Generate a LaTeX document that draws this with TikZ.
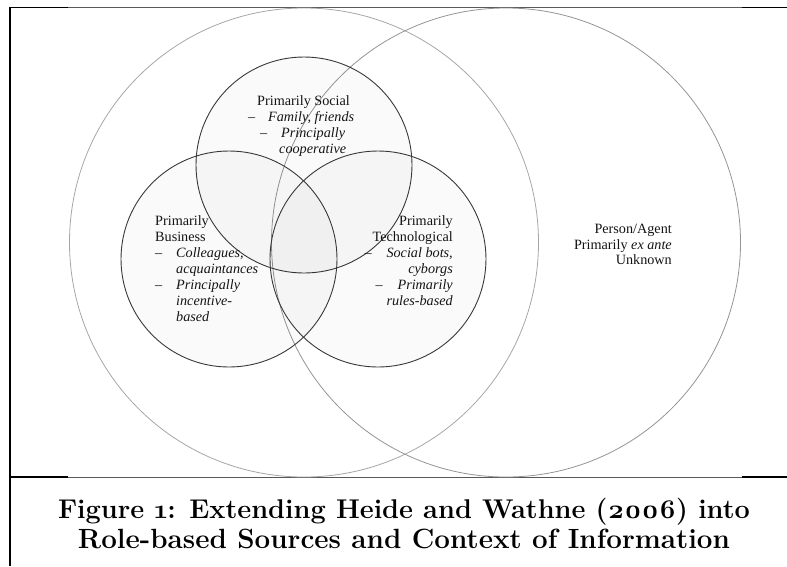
\documentclass[tikz,border=0pt]{standalone}
\usepackage{fontspec}
\newfontfamily\lblfont{Liberation Serif}
\newfontfamily\capfont{Latin Modern Roman}[Numbers=OldStyle]
\begin{document}
\begin{tikzpicture}[x=1pt,y=-1pt,
  bigc/.style={draw=black!42, line width=0.8pt},
  smallc/.style={draw=black!78, line width=0.9pt, fill=black, fill opacity=0.02},
  lbl/.style={font=\lblfont\fontsize{14.2}{16}\selectfont, inner sep=0pt, text=black!92},
  captext/.style={font=\capfont\fontsize{27.8}{32}\selectfont\bfseries, inner sep=0pt, text=black},
  frameline/.style={draw=black, line width=1.4pt},
  thinline/.style={draw=black!65, line width=0.8pt}]
\useasboundingbox (0,0) rectangle (787,566);
% frame lines
\coordinate (tl) at (10,7.5); \coordinate (tla) at (68,7.5);
\coordinate (tra) at (742,7.5); \coordinate (tr) at (787,7.5);
\coordinate (ml) at (10,477); \coordinate (mla) at (68,477);
\coordinate (mra) at (742,477); \coordinate (mr) at (787,477);
\coordinate (bl) at (10,566);
\draw[thinline] (tla) -- (tra);
\draw[thinline] (mla) -- (mra);
\draw[frameline] (tl) -- (tla);
\draw[frameline] (tra) -- (tr);
\draw[frameline] (ml) -- (mla);
\draw[frameline] (mra) -- (mr);
\draw[frameline] ([yshift=0.7pt]tl) -- (bl);
% big circles
\draw[bigc, draw=black!35] (304,242.5) circle[radius=234.5];
\draw[bigc] (506,242.5) circle[radius=234.5];
% small circles
\draw[smallc] (304,165) circle[radius=108];
\draw[smallc] (229,259) circle[radius=108];
\draw[smallc] (378,259) circle[radius=108];
% Social
\node[lbl, anchor=base west] (s1) at (257,105) {Primarily Social};
\node[lbl, anchor=base west] (s2) at (248,121) {\makebox[20pt][l]{–}\textit{Family, friends}};
\node[lbl, anchor=base west] (s3) at (260,137) {\makebox[21pt][l]{–}\textit{Principally}};
\node[lbl, anchor=base west] (s4) at (279,153) {\textit{cooperative}};
% Business
\node[lbl, anchor=base west] (b1) at (155,225) {Primarily};
\node[lbl, anchor=base west] (b2) at (155,241) {Business};
\node[lbl, anchor=base west] (b3) at (155,257) {\makebox[21pt][l]{–}\textit{Colleagues,}};
\node[lbl, anchor=base west] (b4) at (176,273) {\textit{acquaintances}};
\node[lbl, anchor=base west] (b5) at (155,289) {\makebox[21pt][l]{–}\textit{Principally}};
\node[lbl, anchor=base west] (b6) at (176,305) {\textit{incentive-}};
\node[lbl, anchor=base west] (b7) at (176,321) {\textit{based}};
% Technological
\node[lbl, anchor=base east] (t1) at (453,225) {Primarily};
\node[lbl, anchor=base east] (t2) at (453,241) {Technological};
\node[lbl, anchor=base east] (t3) at (453,257) {\makebox[22pt][l]{–}\textit{Social bots,}};
\node[lbl, anchor=base east] (t4) at (453,273) {\textit{cyborgs}};
\node[lbl, anchor=base east] (t5) at (453,289) {\makebox[22pt][l]{–}\textit{Primarily}};
\node[lbl, anchor=base east] (t6) at (453,305) {\textit{rules-based}};
% Person/Agent
\node[lbl, anchor=base east] (p1) at (672,233) {Person/Agent};
\node[lbl, anchor=base east] (p2) at (672,249) {Primarily \textit{ex ante}};
\node[lbl, anchor=base east] (p3) at (672,264) {Unknown};
% caption
\node[captext, font=\capfont\fontsize{27.1}{32}\selectfont\bfseries, anchor=base] (c1) at (404,518) {Figure 1: Extending Heide and Wathne (2006) into};
\node[captext, anchor=base] (c2) at (404,548) {Role-based Sources and Context of Information};
\end{tikzpicture}
\end{document}
